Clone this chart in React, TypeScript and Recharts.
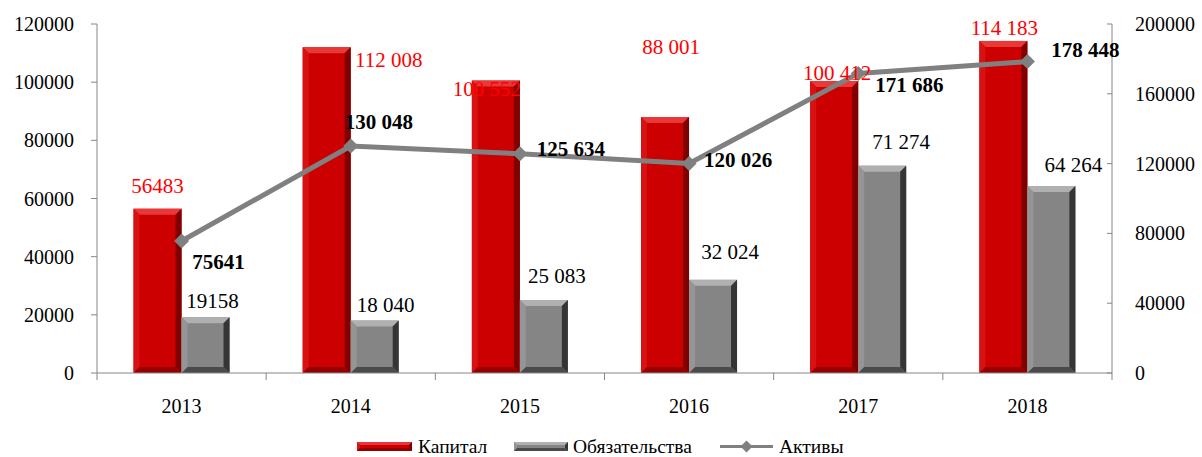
import React from "react";
import {
  Bar,
  ComposedChart,
  LabelList,
  Legend,
  Line,
  XAxis,
  YAxis,
} from "recharts";

const years = ["2013", "2014", "2015", "2016", "2017", "2018"];
const capital = [56483, 112008, 100552, 88001, 100412, 114183];
const liabilities = [19158, 18040, 25083, 32024, 71274, 64264];
const assets = [75641, 130048, 125634, 120026, 171686, 178448];

const leftTicks = [0, 20000, 40000, 60000, 80000, 100000, 120000];
const rightTicks = [0, 40000, 80000, 120000, 160000, 200000];

const capOffsets: [number, number][] = [[0, -23], [62, 13], [-9, 8], [6, -70], [3, -8], [1, -13]];
const liabOffsets: [number, number][] = [[7, -16], [11, -16], [13, -24], [17, -28], [19, -24], [22, -21]];
const assetOffsets: [number, number][] = [[37, 21], [28, -24], [51, -5], [49, -4], [51, 12], [58, -12]];

const data = years.map((year, i) => ({
  year,
  capital: capital[i],
  liabilities: liabilities[i],
  assets: assets[i],
}));

const FONT = '"Liberation Serif", "Times New Roman", serif';
const AXIS = "#868686";
const BAND = (1112 - 97) / 6;
const RIGHT_GAP = 23;

const fmt = (v: number, i: number) =>
  i === 0 ? String(v) : String(v).replace(/\B(?=(\d{3})+(?!\d))/g, " ");

const palettes = {
  red: { face: "#cc0000", top: "#e83838", left: "#d81212", right: "#800000", bottom: "#940000" },
  gray: { face: "#858585", top: "#b0b0b0", left: "#959595", right: "#353535", bottom: "#4a4a4a" },
};

function bevel(p: any, pal: typeof palettes.red, size = 6) {
  const { x, y, width: w, height: h } = p;
  if (!h || h <= 0) return <g />;
  const b = Math.min(size, w / 6, h / 2);
  return (
    <g>
      <rect x={x} y={y} width={w} height={h} fill={pal.face} />
      <polygon points={`${x},${y} ${x + w},${y} ${x + w - b},${y + b} ${x + b},${y + b}`} fill={pal.top} />
      <polygon points={`${x},${y} ${x + b},${y + b} ${x + b},${y + h - b} ${x},${y + h}`} fill={pal.left} />
      <polygon points={`${x + w},${y} ${x + w},${y + h} ${x + w - b},${y + h - b} ${x + w - b},${y + b}`} fill={pal.right} />
      <polygon points={`${x},${y + h} ${x + b},${y + h - b} ${x + w - b},${y + h - b} ${x + w},${y + h}`} fill={pal.bottom} />
    </g>
  );
}

const barLabel =
  (offsets: [number, number][], color: string, weight: string) => (p: any) => {
    const { x, y, width, index, value } = p;
    const [dx, dy] = offsets[index];
    return (
      <text
        x={x + width / 2 + dx}
        y={y + dy}
        textAnchor="middle"
        dominantBaseline="central"
        fill={color}
        fontFamily={FONT}
        fontSize={21}
        fontWeight={weight}
      >
        {fmt(value, index)}
      </text>
    );
  };

const lineLabel = (p: any) => {
  const { x, y, index, value } = p;
  const [dx, dy] = assetOffsets[index];
  return (
    <text
      x={x + dx}
      y={y + dy}
      textAnchor="middle"
      dominantBaseline="central"
      fill="#000"
      fontFamily={FONT}
      fontSize={21}
      fontWeight="bold"
    >
      {fmt(value, index)}
    </text>
  );
};

const Diamond = (p: any) => {
  const { cx, cy } = p;
  if (cx == null) return <g />;
  const s = 7.5;
  return (
    <polygon
      points={`${cx},${cy - s} ${cx + s},${cy} ${cx},${cy + s} ${cx - s},${cy}`}
      fill="#808080"
    />
  );
};

const YearTick = (p: any) => {
  const { x, y, payload, index } = p;
  return (
    <g>
      <line x1={x - BAND / 2} x2={x - BAND / 2} y1={y - 8} y2={y - 1} stroke={AXIS} />
      {index === years.length - 1 && (
        <line x1={x + BAND / 2} x2={x + BAND / 2} y1={y - 8} y2={y - 1} stroke={AXIS} />
      )}
      <text x={x} y={y + 32} textAnchor="middle" fill="#000" fontFamily={FONT} fontSize={20}>
        {payload.value}
      </text>
    </g>
  );
};

const LeftTick = (p: any) => {
  const { x, y, payload } = p;
  return (
    <text x={x} y={y} textAnchor="end" dominantBaseline="central" fill="#000" fontFamily={FONT} fontSize={20}>
      {payload.value}
    </text>
  );
};

// right axis has its tick marks drawn inside the plot
const RightTick = (p: any) => {
  const { x, y, payload } = p;
  return (
    <g>
      <line x1={x - RIGHT_GAP - 5} x2={x - RIGHT_GAP} y1={y} y2={y} stroke={AXIS} />
      <text x={x} y={y} textAnchor="start" dominantBaseline="central" fill="#000" fontFamily={FONT} fontSize={20}>
        {payload.value}
      </text>
    </g>
  );
};

const LegendBox = () => (
  <svg width={1202} height={37} style={{ display: "block", overflow: "visible" }}>
    <g fontFamily={FONT} fontSize={19.5} fill="#000">
      {bevel({ x: 357, y: 22, width: 55, height: 9 }, palettes.red, 3)}
      <text x={418} y={26.5} dominantBaseline="central">
        Капитал
      </text>
      {bevel({ x: 514, y: 22, width: 54, height: 9 }, palettes.gray, 3)}
      <text x={573} y={26.5} dominantBaseline="central">
        Обязательства
      </text>
      <line x1={720} x2={773} y1={26.5} y2={26.5} stroke="#808080" strokeWidth={3} />
      <polygon points="746.5,20.5 752.5,26.5 746.5,32.5 740.5,26.5" fill="#808080" />
      <text x={779} y={26.5} dominantBaseline="central">
        Активы
      </text>
    </g>
  </svg>
);

export default function App() {
  return (
    <div style={{ position: "absolute", left: 0, top: 0, background: "#fff", fontFamily: FONT }}>
      <ComposedChart
        width={1202}
        height={457}
        data={data}
        margin={{ top: 24, right: 0, bottom: 0, left: 0 }}
        barCategoryGap="21.6%"
        barGap={0}
      >
        <XAxis
          dataKey="year"
          height={47}
          stroke={AXIS}
          tickLine={false}
          tick={<YearTick />}
          interval={0}
        />
        <YAxis
          yAxisId="left"
          width={97}
          domain={[0, 120000]}
          ticks={leftTicks}
          stroke={AXIS}
          tickSize={6}
          tick={<LeftTick />}
          tickMargin={17}
        />
        <YAxis
          yAxisId="right"
          orientation="right"
          width={90}
          domain={[0, 200000]}
          ticks={rightTicks}
          stroke={AXIS}
          tickLine={false}
          tickSize={0}
          tick={<RightTick />}
          tickMargin={RIGHT_GAP}
        />
        <Legend verticalAlign="bottom" height={37} content={<LegendBox />} />
        <Bar
          yAxisId="left"
          dataKey="capital"
          name="Капитал"
          isAnimationActive={false}
          shape={(p: any) => bevel(p, palettes.red)}
        >
          <LabelList dataKey="capital" content={barLabel(capOffsets, "#ff0000", "normal")} />
        </Bar>
        <Bar
          yAxisId="left"
          dataKey="liabilities"
          name="Обязательства"
          isAnimationActive={false}
          shape={(p: any) => bevel(p, palettes.gray)}
        >
          <LabelList dataKey="liabilities" content={barLabel(liabOffsets, "#000", "normal")} />
        </Bar>
        <Line
          yAxisId="right"
          dataKey="assets"
          name="Активы"
          stroke="#808080"
          strokeWidth={5}
          dot={<Diamond />}
          activeDot={false}
          isAnimationActive={false}
        >
          <LabelList dataKey="assets" content={lineLabel} />
        </Line>
      </ComposedChart>
    </div>
  );
}
